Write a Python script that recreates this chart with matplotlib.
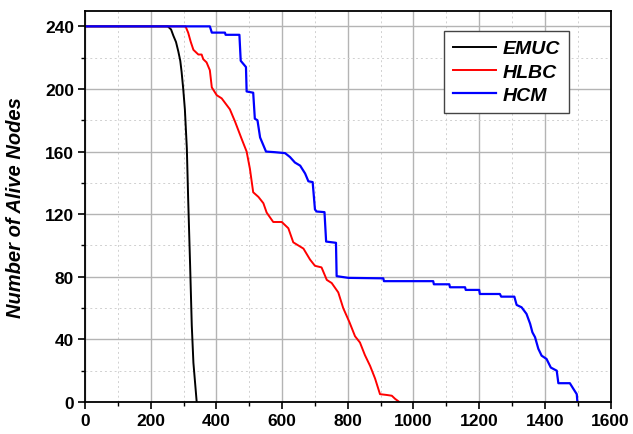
import matplotlib
matplotlib.use("Agg")
import matplotlib.pyplot as plt
from matplotlib.ticker import MultipleLocator

plt.rcParams["font.family"] = ["Liberation Sans", "DejaVu Sans"]

# EMUC
emuc_x = [0, 252, 262, 269, 277, 284, 290, 294, 299, 304, 310, 314, 320, 325, 330, 340]
emuc_y = [240, 240, 238, 234, 230, 224, 218, 211, 200, 187, 162, 130, 87, 49, 25, 0]

# HLBC
hlbc_x = [0, 306, 314, 322, 330, 345, 355, 360, 370, 380, 386, 401, 416, 441, 457,
          477, 492, 502, 512, 528, 543, 553, 573, 599, 619, 634, 665, 685, 700, 720,
          736, 751, 771, 786, 805, 822, 837, 852, 868, 883, 898, 918, 934, 944, 957]
hlbc_y = [240, 240, 236, 230, 225, 222, 222, 219, 217, 212, 201, 196, 194, 187, 179,
          168, 160, 149, 134, 131, 127, 121, 115, 115, 111, 102, 98, 91, 87, 86,
          78, 76, 70, 60, 51, 42, 38, 30, 23, 15, 5, 4.5, 4, 2, 0]

# HCM
hcm_x = [0, 380, 386, 426, 428, 470, 474, 482, 490, 492,
         512, 517, 525, 533, 543, 551, 578, 609, 624, 639,
         655, 670, 680, 693, 700, 705, 729, 734, 764, 766,
         802, 908, 910, 1060, 1062, 1109, 1111, 1157, 1159, 1200,
         1202, 1263, 1267, 1307, 1314, 1329, 1344, 1355, 1362, 1370,
         1380, 1390, 1405, 1418, 1436, 1441, 1476, 1487, 1497, 1499]
hcm_y = [240, 240, 236, 236, 234.6, 234.6, 218, 216, 214, 198.4,
         197.6, 181, 180, 169, 164, 160, 159.6, 159, 156.5, 153,
         151, 146, 141, 140.5, 123, 121.7, 121.3, 102.5, 101.7, 80.4,
         79.3, 79, 77.2, 77.2, 75.2, 75.2, 73.3, 73.3, 71.6, 71.6,
         69, 69, 67.3, 67.3, 62, 60.5, 56.3, 50, 44.5, 41.4,
         34, 29.6, 27.5, 22, 20, 12, 12, 8.3, 5, 0]

fig = plt.figure(figsize=(6.33, 4.35), dpi=100)
ax = fig.add_axes([0.1343, 0.0736, 0.8303, 0.8995])

ax.plot(emuc_x, emuc_y, color="black", lw=1.4, label="EMUC")
ax.plot(hlbc_x, hlbc_y, color="red", lw=1.4, label="HLBC")
ax.plot(hcm_x, hcm_y, color="blue", lw=1.6, label="HCM")

ax.set_xlim(0, 1600)
ax.set_ylim(0, 250)
ax.xaxis.set_major_locator(MultipleLocator(200))
ax.xaxis.set_minor_locator(MultipleLocator(100))
ax.yaxis.set_major_locator(MultipleLocator(40))
ax.yaxis.set_minor_locator(MultipleLocator(20))

ax.grid(which="major", color="#b4b4b4", lw=1.0)
ax.grid(which="minor", color="#d0d0d0", lw=0.7, ls=(0, (2, 3)))
ax.set_axisbelow(True)

ax.tick_params(which="major", direction="out", length=5, width=1.2, labelsize=12.5, pad=3)
ax.tick_params(which="minor", direction="out", length=3, width=1.0)
for lbl in ax.get_xticklabels() + ax.get_yticklabels():
    lbl.set_fontweight("bold")
for s in ax.spines.values():
    s.set_linewidth(1.3)

ax.set_ylabel("Number of Alive Nodes", fontsize=14.5, fontweight="bold", style="italic")
ax.yaxis.set_label_coords(-0.114, 0.5)

leg = ax.legend(loc="upper right", bbox_to_anchor=(0.921, 0.948), borderaxespad=0,
                fancybox=False, framealpha=1, edgecolor="#444444",
                handlelength=2.2, handletextpad=0.35,
                prop={"weight": "bold", "style": "italic", "size": 14},
                borderpad=0.45, labelspacing=0.3)
leg.get_frame().set_linewidth(1.0)

fig.savefig("out.png", dpi=100)
